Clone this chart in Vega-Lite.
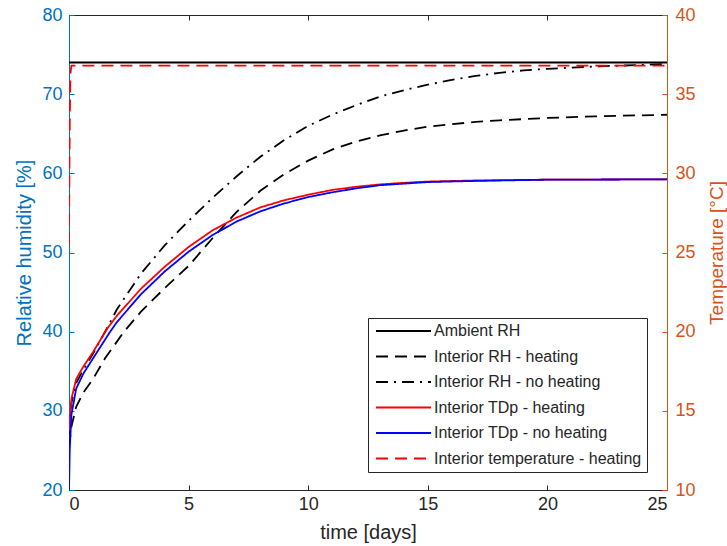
{
  "$schema": "https://vega.github.io/schema/vega-lite/v6.json",
  "width": 598,
  "height": 475,
  "autosize": {"type": "none"},
  "padding": {"left": 69, "top": 15, "right": 60, "bottom": 56},
  "config": {
    "font": "Liberation Sans",
    "view": {"stroke": "#262626", "strokeWidth": 1},
    "axis": {"grid": false, "titleFontWeight": "normal"}
  },
  "datasets": {
    "rh": [
      {"t": 0, "v": 74.0, "series": "Ambient RH"},
      {"t": 25, "v": 74.0, "series": "Ambient RH"},
      {"t": 0, "v": 25.5, "series": "Interior RH - heating"},
      {"t": 0.1, "v": 28, "series": "Interior RH - heating"},
      {"t": 0.3, "v": 30.5, "series": "Interior RH - heating"},
      {"t": 0.6, "v": 32.3, "series": "Interior RH - heating"},
      {"t": 1, "v": 34, "series": "Interior RH - heating"},
      {"t": 1.5, "v": 36.6, "series": "Interior RH - heating"},
      {"t": 2.3, "v": 40, "series": "Interior RH - heating"},
      {"t": 3, "v": 42.5, "series": "Interior RH - heating"},
      {"t": 4, "v": 45.5, "series": "Interior RH - heating"},
      {"t": 5, "v": 48.3, "series": "Interior RH - heating"},
      {"t": 6, "v": 51.8, "series": "Interior RH - heating"},
      {"t": 7, "v": 55.1, "series": "Interior RH - heating"},
      {"t": 8, "v": 57.8, "series": "Interior RH - heating"},
      {"t": 9, "v": 59.9, "series": "Interior RH - heating"},
      {"t": 10, "v": 61.6, "series": "Interior RH - heating"},
      {"t": 11, "v": 63.0, "series": "Interior RH - heating"},
      {"t": 12, "v": 64.0, "series": "Interior RH - heating"},
      {"t": 13, "v": 64.8, "series": "Interior RH - heating"},
      {"t": 14, "v": 65.4, "series": "Interior RH - heating"},
      {"t": 15, "v": 65.9, "series": "Interior RH - heating"},
      {"t": 16, "v": 66.2, "series": "Interior RH - heating"},
      {"t": 17, "v": 66.5, "series": "Interior RH - heating"},
      {"t": 18, "v": 66.7, "series": "Interior RH - heating"},
      {"t": 20, "v": 67.0, "series": "Interior RH - heating"},
      {"t": 22, "v": 67.2, "series": "Interior RH - heating"},
      {"t": 25, "v": 67.4, "series": "Interior RH - heating"},
      {"t": 0, "v": 27, "series": "Interior RH - no heating"},
      {"t": 0.1, "v": 31, "series": "Interior RH - no heating"},
      {"t": 0.3, "v": 33.5, "series": "Interior RH - no heating"},
      {"t": 0.6, "v": 35.2, "series": "Interior RH - no heating"},
      {"t": 1, "v": 37.2, "series": "Interior RH - no heating"},
      {"t": 1.6, "v": 40.5, "series": "Interior RH - no heating"},
      {"t": 2, "v": 42.8, "series": "Interior RH - no heating"},
      {"t": 3, "v": 47.3, "series": "Interior RH - no heating"},
      {"t": 4, "v": 50.9, "series": "Interior RH - no heating"},
      {"t": 5, "v": 54.0, "series": "Interior RH - no heating"},
      {"t": 6, "v": 56.9, "series": "Interior RH - no heating"},
      {"t": 7, "v": 59.6, "series": "Interior RH - no heating"},
      {"t": 8, "v": 62.1, "series": "Interior RH - no heating"},
      {"t": 9, "v": 64.2, "series": "Interior RH - no heating"},
      {"t": 10, "v": 66, "series": "Interior RH - no heating"},
      {"t": 11, "v": 67.4, "series": "Interior RH - no heating"},
      {"t": 12, "v": 68.6, "series": "Interior RH - no heating"},
      {"t": 13, "v": 69.7, "series": "Interior RH - no heating"},
      {"t": 14, "v": 70.5, "series": "Interior RH - no heating"},
      {"t": 15, "v": 71.2, "series": "Interior RH - no heating"},
      {"t": 16, "v": 71.8, "series": "Interior RH - no heating"},
      {"t": 17, "v": 72.3, "series": "Interior RH - no heating"},
      {"t": 18, "v": 72.7, "series": "Interior RH - no heating"},
      {"t": 19, "v": 73.0, "series": "Interior RH - no heating"},
      {"t": 20, "v": 73.2, "series": "Interior RH - no heating"},
      {"t": 22, "v": 73.5, "series": "Interior RH - no heating"},
      {"t": 25, "v": 73.8, "series": "Interior RH - no heating"}
    ],
    "temp": [
      {"t": 0, "v": 13.75, "series": "Interior TDp - heating"},
      {"t": 0.1, "v": 15.75, "series": "Interior TDp - heating"},
      {"t": 0.3, "v": 17, "series": "Interior TDp - heating"},
      {"t": 0.6, "v": 17.8, "series": "Interior TDp - heating"},
      {"t": 1, "v": 18.7, "series": "Interior TDp - heating"},
      {"t": 1.6, "v": 20.2, "series": "Interior TDp - heating"},
      {"t": 2, "v": 21.0, "series": "Interior TDp - heating"},
      {"t": 3, "v": 22.7, "series": "Interior TDp - heating"},
      {"t": 4, "v": 24.1, "series": "Interior TDp - heating"},
      {"t": 5, "v": 25.35, "series": "Interior TDp - heating"},
      {"t": 6, "v": 26.4, "series": "Interior TDp - heating"},
      {"t": 7, "v": 27.2, "series": "Interior TDp - heating"},
      {"t": 8, "v": 27.85, "series": "Interior TDp - heating"},
      {"t": 9, "v": 28.3, "series": "Interior TDp - heating"},
      {"t": 10, "v": 28.65, "series": "Interior TDp - heating"},
      {"t": 11, "v": 28.95, "series": "Interior TDp - heating"},
      {"t": 12, "v": 29.15, "series": "Interior TDp - heating"},
      {"t": 13, "v": 29.3, "series": "Interior TDp - heating"},
      {"t": 14, "v": 29.4, "series": "Interior TDp - heating"},
      {"t": 15, "v": 29.48, "series": "Interior TDp - heating"},
      {"t": 17, "v": 29.55, "series": "Interior TDp - heating"},
      {"t": 20, "v": 29.6, "series": "Interior TDp - heating"},
      {"t": 25, "v": 29.62, "series": "Interior TDp - heating"},
      {"t": 0, "v": 10, "series": "Interior TDp - no heating"},
      {"t": 0.03, "v": 12.5, "series": "Interior TDp - no heating"},
      {"t": 0.1, "v": 14.75, "series": "Interior TDp - no heating"},
      {"t": 0.3, "v": 16.4, "series": "Interior TDp - no heating"},
      {"t": 0.6, "v": 17.35, "series": "Interior TDp - no heating"},
      {"t": 1, "v": 18.3, "series": "Interior TDp - no heating"},
      {"t": 1.7, "v": 19.95, "series": "Interior TDp - no heating"},
      {"t": 2, "v": 20.6, "series": "Interior TDp - no heating"},
      {"t": 3, "v": 22.35, "series": "Interior TDp - no heating"},
      {"t": 4, "v": 23.8, "series": "Interior TDp - no heating"},
      {"t": 5, "v": 25.05, "series": "Interior TDp - no heating"},
      {"t": 6, "v": 26.1, "series": "Interior TDp - no heating"},
      {"t": 7, "v": 26.95, "series": "Interior TDp - no heating"},
      {"t": 8, "v": 27.6, "series": "Interior TDp - no heating"},
      {"t": 9, "v": 28.1, "series": "Interior TDp - no heating"},
      {"t": 10, "v": 28.5, "series": "Interior TDp - no heating"},
      {"t": 11, "v": 28.8, "series": "Interior TDp - no heating"},
      {"t": 12, "v": 29.05, "series": "Interior TDp - no heating"},
      {"t": 13, "v": 29.25, "series": "Interior TDp - no heating"},
      {"t": 14, "v": 29.35, "series": "Interior TDp - no heating"},
      {"t": 15, "v": 29.45, "series": "Interior TDp - no heating"},
      {"t": 17, "v": 29.52, "series": "Interior TDp - no heating"},
      {"t": 20, "v": 29.6, "series": "Interior TDp - no heating"},
      {"t": 25, "v": 29.62, "series": "Interior TDp - no heating"},
      {"t": 0, "v": 25.5, "series": "Interior temperature - heating"},
      {"t": 0.03, "v": 33, "series": "Interior temperature - heating"},
      {"t": 0.06, "v": 36.3, "series": "Interior temperature - heating"},
      {"t": 0.1, "v": 36.8, "series": "Interior temperature - heating"},
      {"t": 25, "v": 36.8, "series": "Interior temperature - heating"}
    ]
  },
  "layer": [
    {
      "data": {"name": "rh"},
      "mark": {"type": "line", "strokeWidth": 1.8, "clip": true},
      "encoding": {
        "x": {
          "field": "t", "type": "quantitative",
          "scale": {"domain": [0, 25], "nice": false},
          "axis": {
            "orient": "bottom", "values": [0, 5, 10, 15, 20, 25],
            "title": "time [days]", "titleFontSize": 20, "titleColor": "#262626",
            "titlePadding": 9,
            "labelFontSize": 18, "labelColor": "#262626", "labelPadding": 10,
            "domainColor": "#262626", "tickColor": "#262626", "tickSize": -5
          }
        },
        "y": {
          "field": "v", "type": "quantitative",
          "scale": {"domain": [20, 80], "nice": false},
          "axis": {
            "orient": "left", "values": [20, 30, 40, 50, 60, 70, 80],
            "title": "Relative humidity [%]", "titleFontSize": 20, "titleColor": "#0072BD",
            "titlePadding": 7,
            "labelFontSize": 18, "labelColor": "#0072BD", "labelPadding": 12,
            "domainColor": "#0072BD", "tickColor": "#0072BD", "tickSize": -5
          }
        },
        "color": {
          "field": "series", "type": "nominal",
          "scale": {
            "domain": ["Ambient RH", "Interior RH - heating", "Interior RH - no heating", "Interior TDp - heating", "Interior TDp - no heating", "Interior temperature - heating"],
            "range": ["#000000", "#000000", "#000000", "#FF0000", "#0000FF", "#FF0000"]
          },
          "legend": {
            "title": null, "orient": "none", "legendX": 299, "legendY": 303,
            "fillColor": "#FFFFFF", "strokeColor": "#262626", "padding": 5,
            "labelFontSize": 16, "labelColor": "#262626", "labelOffset": 45,
            "symbolType": "M-1,0H10", "symbolSize": 100, "symbolStrokeWidth": 1.8,
            "rowPadding": 9.5, "labelLimit": 400
          }
        },
        "strokeDash": {
          "field": "series", "type": "nominal",
          "scale": {
            "domain": ["Ambient RH", "Interior RH - heating", "Interior RH - no heating", "Interior TDp - heating", "Interior TDp - no heating", "Interior temperature - heating"],
            "range": [[1, 0], [12, 7], [12, 6, 2, 6], [1, 0], [1, 0], [12, 7]]
          },
          "legend": {
            "title": null, "orient": "none", "legendX": 299, "legendY": 303,
            "fillColor": "#FFFFFF", "strokeColor": "#262626", "padding": 5,
            "labelFontSize": 16, "labelColor": "#262626", "labelOffset": 45,
            "symbolType": "M-1,0H10", "symbolSize": 100, "symbolStrokeWidth": 1.8,
            "rowPadding": 9.5, "labelLimit": 400
          }
        }
      }
    },
    {
      "data": {"name": "temp"},
      "mark": {"type": "line", "strokeWidth": 1.8, "clip": true},
      "encoding": {
        "x": {
          "field": "t", "type": "quantitative",
          "axis": {
            "orient": "top", "values": [0, 5, 10, 15, 20, 25],
            "labels": false, "title": null, "domain": false,
            "tickColor": "#262626", "tickSize": -5
          }
        },
        "y": {
          "field": "v", "type": "quantitative",
          "scale": {"domain": [10, 40], "nice": false},
          "axis": {
            "orient": "right", "values": [10, 15, 20, 25, 30, 35, 40],
            "title": "Temperature [°C]", "titleFontSize": 19, "titleColor": "#D95319",
            "titleAngle": 270, "titleBaseline": "top", "titlePadding": 12,
            "labelFontSize": 18, "labelColor": "#D95319", "labelPadding": 13,
            "domainColor": "#D95319", "tickColor": "#D95319", "tickSize": -5
          }
        },
        "color": {"field": "series", "type": "nominal"},
        "strokeDash": {"field": "series", "type": "nominal"}
      }
    }
  ],
  "resolve": {"scale": {"y": "independent"}, "axis": {"x": "independent"}}
}
